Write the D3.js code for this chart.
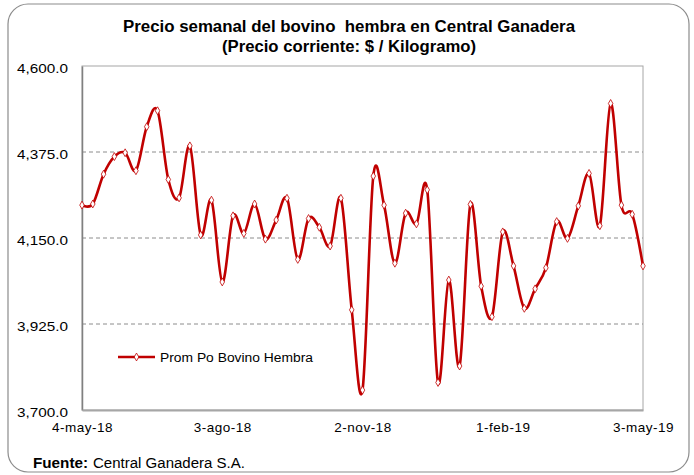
<!DOCTYPE html>
<html>
<head>
<meta charset="utf-8">
<script src="https://cdn.jsdelivr.net/npm/d3@7"></script>
<style>
  body { margin: 0; background: #fff; }
  text { font-family: "Liberation Sans", Arial, sans-serif; fill: #000; }
</style>
</head>
<body>
<div id="viz"></div>
<script>
// weekly price, 4-may-18 .. 3-may-19
const precio = [4236, 4239, 4317, 4363, 4373, 4326, 4441, 4483, 4303, 4255,
                4391, 4158, 4249, 4035, 4208, 4162, 4239, 4147, 4197, 4254,
                4094, 4201, 4178, 4129, 4254, 3962, 3752, 4312, 4236, 4084,
                4215, 4187, 4276, 3772, 4040, 3815, 4238, 4024, 3944, 4166,
                4077, 3966, 4017, 4072, 4193, 4149, 4234, 4319, 4182, 4502,
                4236, 4212, 4077];
const tickWeeks = [0, 13, 26, 39, 52];
const tickLabels = ['4-may-18', '3-ago-18', '2-nov-18', '1-feb-19', '3-may-19'];
const yTicks = [3700, 3925, 4150, 4375, 4600];
const serieName = 'Prom Po Bovino Hembra';

const W = 694, H = 475;
const pLeft = 82, pRight = 643, pTop = 66, pBottom = 410;

let svg = d3.select('#viz').append('svg')
  .attr('width', W)
  .attr('height', H);

// outer frame
svg.append('rect')
  .attr('x', 8).attr('y', 4)
  .attr('width', 681).attr('height', 468)
  .attr('rx', 20).attr('ry', 20)
  .attr('fill', '#fff')
  .attr('stroke', '#8c8c8c')
  .attr('stroke-width', 1.2);

let x = d3.scaleLinear().domain([0, precio.length - 1]).range([pLeft, pRight]);
let y = d3.scaleLinear().domain([3700, 4600]).range([pBottom, pTop]);

// title
svg.append('text')
  .attr('x', 349).attr('y', 32)
  .attr('text-anchor', 'middle')
  .attr('xml:space', 'preserve')
  .attr('textLength', 452).attr('lengthAdjust', 'spacingAndGlyphs')
  .style('font-weight', 'bold').style('font-size', '16px')
  .text('Precio semanal del bovino  hembra en Central Ganadera');
svg.append('text')
  .attr('x', 349).attr('y', 52)
  .attr('text-anchor', 'middle')
  .attr('textLength', 254).attr('lengthAdjust', 'spacingAndGlyphs')
  .style('font-weight', 'bold').style('font-size', '16px')
  .text('(Precio corriente: $ / Kilogramo)');

// plot box
svg.append('rect')
  .attr('x', pLeft).attr('y', pTop)
  .attr('width', pRight - pLeft).attr('height', pBottom - pTop)
  .attr('fill', 'none')
  .attr('stroke', '#a6a6a6')
  .attr('stroke-width', 1);

// gridlines
svg.selectAll('.grid')
  .data(yTicks.filter(function(d){ return d > 3700 && d < 4600; }))
  .enter().append('line')
  .attr('class', 'grid')
  .attr('x1', pLeft).attr('x2', pRight)
  .attr('y1', function(d){ return y(d); })
  .attr('y2', function(d){ return y(d); })
  .attr('stroke', '#8c8c8c')
  .attr('stroke-dasharray', '4,3')
  .attr('stroke-width', 1);

// y axis
let yAxis = d3.axisLeft(y).tickValues(yTicks).tickFormat(d3.format(',.1f')).tickSize(0).tickPadding(14);
let gy = svg.append('g').attr('transform', 'translate(' + pLeft + ',0)').call(yAxis);
gy.select('.domain').attr('stroke', '#808080').attr('stroke-width', 1.5);
gy.selectAll('text')
  .attr('font-family', null)
  .attr('dy', '0.5em')
  .attr('textLength', 51).attr('lengthAdjust', 'spacingAndGlyphs')
  .style('font-size', '13.5px');

// x axis
let xAxis = d3.axisBottom(x).tickValues(tickWeeks)
  .tickFormat(function(d, i){ return tickLabels[i]; })
  .tickSize(0).tickPadding(12);
let gx = svg.append('g').attr('transform', 'translate(0,' + pBottom + ')').call(xAxis);
gx.select('.domain').attr('stroke', '#a6a6a6').attr('stroke-width', 2);
gx.selectAll('text')
  .attr('font-family', null)
  .style('font-size', '13.5px')
  .style('letter-spacing', '0.5px');

// line
let line = d3.line()
  .x(function(d, i){ return x(i); })
  .y(function(d){ return y(d); })
  .curve(d3.curveCardinal.tension(0));

svg.append('path')
  .datum(precio)
  .attr('d', line)
  .attr('fill', 'none')
  .attr('stroke', '#c00000')
  .attr('stroke-width', 2.6);

let diamond = d3.symbol().type(d3.symbolDiamond).size(18);
svg.selectAll('.pt')
  .data(precio)
  .enter().append('path')
  .attr('class', 'pt')
  .attr('d', diamond)
  .attr('transform', function(d, i){ return 'translate(' + x(i) + ',' + y(d) + ')'; })
  .attr('fill', '#fff')
  .attr('stroke', '#c00000')
  .attr('stroke-width', 0.8);

// legend
svg.append('line')
  .attr('x1', 118).attr('x2', 155)
  .attr('y1', 357).attr('y2', 357)
  .attr('stroke', '#c00000').attr('stroke-width', 2.6);
svg.append('path')
  .attr('d', diamond)
  .attr('transform', 'translate(136.5,357)')
  .attr('fill', '#fff').attr('stroke', '#c00000').attr('stroke-width', 0.8);
svg.append('text')
  .attr('x', 160).attr('y', 361.5)
  .attr('textLength', 153).attr('lengthAdjust', 'spacingAndGlyphs')
  .style('font-size', '12.5px')
  .text(serieName);

// source
svg.append('text').attr('x', 33).attr('y', 468)
  .attr('textLength', 55).attr('lengthAdjust', 'spacingAndGlyphs')
  .style('font-size', '14px').style('font-weight', 'bold')
  .text('Fuente:');
svg.append('text').attr('x', 93).attr('y', 468)
  .attr('textLength', 152).attr('lengthAdjust', 'spacingAndGlyphs')
  .style('font-size', '14px')
  .text('Central Ganadera S.A.');
</script>
</body>
</html>
